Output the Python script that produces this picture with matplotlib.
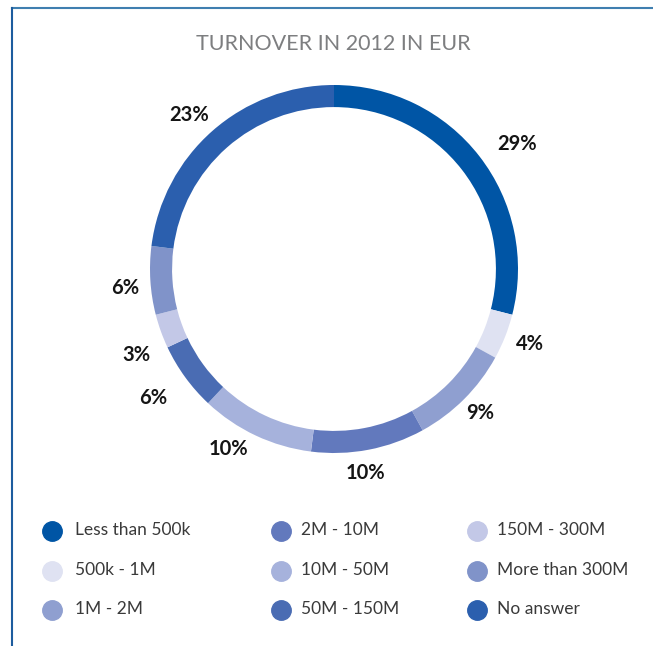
import matplotlib.pyplot as plt
from matplotlib.lines import Line2D
import numpy as np

# Data
categories = ['Less than 500k', '500k - 1M', '1M - 2M', '2M - 10M', '10M - 50M',
              '50M - 150M', '150M - 300M', 'More than 300M', 'No answer']
shares = [29, 4, 9, 10, 10, 6, 3, 6, 23]
colors = ['#0055a5', '#dfe2f2', '#8f9fd0', '#6279bd', '#a6b2dc',
          '#4a6cb3', '#c3c8e7', '#8093c9', '#2b5fae']
title = 'TURNOVER IN 2012 IN EUR'

# label placement: distance (outer radius units) and angular nudge (deg)
label_dist = [1.206, 1.14, 1.115, 1.122, 1.133, 1.208, 1.173, 1.141, 1.149]
label_shift = [-3.4, 0.7, 0.4, -1.9, -5.1, -0.5, 3.7, 1.6, 1.9]

W, H = 653, 646
fig = plt.figure(figsize=(W / 100, H / 100), dpi=100)

# donut: centre (334, 269) px, outer radius 184 px
cx, cy, r = 334, 269, 184
ax = fig.add_axes([(cx - r) / W, (H - cy - r) / H, 2 * r / W, 2 * r / H])
ax.pie(shares, colors=colors, startangle=90, counterclock=False, radius=1,
       wedgeprops=dict(width=0.12, edgecolor='none'))
ax.set_xlim(-1, 1)
ax.set_ylim(-1, 1)
ax.set_aspect('equal')
ax.axis('off')

# percentage labels
cum = np.cumsum([0] + shares[:-1])
for start, val, d, s in zip(cum, shares, label_dist, label_shift):
    ang = np.deg2rad(90 - (start + val / 2) / sum(shares) * 360 + s)
    ax.text(d * np.cos(ang), d * np.sin(ang), f'{val}%', ha='center', va='center',
            fontsize=14.5, fontweight='bold', color='#151515', family=['Lato', 'DejaVu Sans'],
            clip_on=False)

fig.text(333 / W, 1 - 44 / H, title, ha='center', va='center', fontsize=15.5,
         color='#7d7e80', family=['Lato', 'DejaVu Sans'])

# legend, 3 columns filled top to bottom
col_x = [52, 281, 477]
text_gap = [23, 20, 20]
row_y = [531, 571, 610]
for i, (lab, c) in enumerate(zip(categories, colors)):
    x = col_x[i // 3]
    y = row_y[i % 3]
    fig.add_artist(Line2D([x / W], [1 - y / H], marker='o', markersize=14,
                          color=c, linestyle='none'))
    fig.text((x + text_gap[i // 3]) / W, 1 - (y - 1) / H, lab, ha='left', va='center',
             fontsize=12.5, color='#3a3a3a', family=['Lato', 'DejaVu Sans'])

# frame lines
fig.add_artist(Line2D([12.5 / W, 1], [1 - 7.5 / H] * 2, color='#3f7fb0', lw=1.5))
fig.add_artist(Line2D([12.5 / W] * 2, [0, 1 - 7.5 / H], color='#1d5c9e', lw=1.5))

fig.savefig('out.png', dpi=100)
